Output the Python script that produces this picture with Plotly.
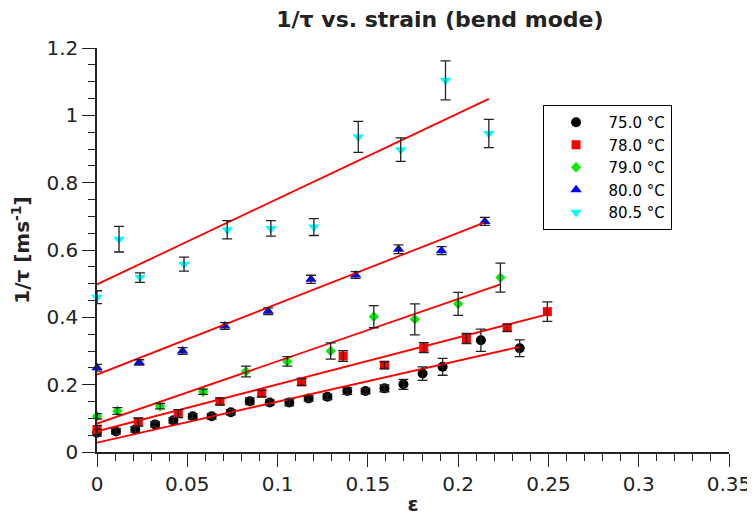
import plotly.graph_objects as go

# ---- data ----
labels = ["75.0 °C", "78.0 °C", "79.0 °C", "80.0 °C", "80.5 °C"]

x_750 = [0.0, 0.0105, 0.0212, 0.0322, 0.0423, 0.053, 0.0635, 0.0741, 0.0846, 0.0957, 0.1065,
         0.1172, 0.1276, 0.1386, 0.1487, 0.1592, 0.1697, 0.1803, 0.1914, 0.2126, 0.2341]
y_750 = [0.057, 0.061, 0.067, 0.082, 0.094, 0.106, 0.106, 0.118, 0.151, 0.147, 0.147,
         0.159, 0.164, 0.181, 0.181, 0.189, 0.201, 0.233, 0.253, 0.332, 0.308]
e_750 = [0.01, 0.008, 0.008, 0.008, 0.008, 0.008, 0.008, 0.008, 0.01, 0.008, 0.01,
         0.008, 0.008, 0.01, 0.008, 0.01, 0.015, 0.02, 0.025, 0.033, 0.025]

x_780 = [0.0, 0.0229, 0.045, 0.0681, 0.0912, 0.1133, 0.1363, 0.1592, 0.181, 0.2046, 0.2272, 0.2494]
y_780 = [0.067, 0.089, 0.114, 0.150, 0.174, 0.208, 0.285, 0.258, 0.310, 0.337, 0.369, 0.417]
e_780 = [0.012, 0.012, 0.012, 0.01, 0.01, 0.01, 0.016, 0.01, 0.015, 0.015, 0.011, 0.029]

x_790 = [0.0, 0.0113, 0.0349, 0.0588, 0.0825, 0.1054, 0.1294, 0.1533, 0.176, 0.2000, 0.2234]
y_790 = [0.106, 0.122, 0.136, 0.179, 0.239, 0.269, 0.300, 0.402, 0.394, 0.440, 0.518]
e_790 = [0.008, 0.01, 0.008, 0.008, 0.016, 0.014, 0.024, 0.033, 0.046, 0.034, 0.043]

x_800 = [0.0, 0.0234, 0.0474, 0.0708, 0.0948, 0.1185, 0.1432, 0.167, 0.1908, 0.2148]
y_800 = [0.250, 0.266, 0.300, 0.374, 0.418, 0.513, 0.526, 0.602, 0.598, 0.685]
e_800 = [0.01, 0.008, 0.01, 0.01, 0.01, 0.012, 0.01, 0.013, 0.012, 0.012]

x_805 = [0.0, 0.0122, 0.0238, 0.0482, 0.0721, 0.0963, 0.1201, 0.1447, 0.1682, 0.193, 0.217]
y_805 = [0.460, 0.632, 0.518, 0.558, 0.660, 0.664, 0.668, 0.936, 0.898, 1.104, 0.946]
e_805 = [0.019, 0.038, 0.014, 0.021, 0.027, 0.023, 0.025, 0.046, 0.035, 0.058, 0.042]

# linear fit lines: start/end x and y
fit_x0 = [0.0, 0.0, 0.0, 0.0, 0.0]
fit_x1 = [0.2341, 0.2494, 0.2234, 0.2148, 0.217]
fit_y0 = [0.028, 0.0616, 0.0845, 0.230, 0.498]
fit_y1 = [0.3125, 0.409, 0.498, 0.682, 1.049]

xs = [x_750, x_780, x_790, x_800, x_805]
ys = [y_750, y_780, y_790, y_800, y_805]
es = [e_750, e_780, e_790, e_800, e_805]

colors = ["#000000", "#ff0000", "#00ee00", "#0000ff", "#00ffff"]
symbols = ["circle", "square", "diamond", "triangle-up", "triangle-down"]
sizes = [10, 9, 8, 10, 10]

fig = go.Figure()

for i in range(5):
    fig.add_trace(go.Scatter(
        x=xs[i], y=ys[i], mode="markers", name=labels[i],
        marker=dict(color=colors[i], symbol=symbols[i], size=sizes[i], line=dict(width=0)),
        cliponaxis=False,
    ))

for i in range(5):
    fig.add_trace(go.Scatter(
        x=[fit_x0[i], fit_x1[i]], y=[fit_y0[i], fit_y1[i]], mode="lines",
        line=dict(color="#ff0000", width=1.8), showlegend=False, hoverinfo="skip",
        cliponaxis=False,
    ))

for i in range(5):
    fig.add_trace(go.Scatter(
        x=xs[i], y=ys[i], mode="markers", showlegend=False, hoverinfo="skip",
        marker=dict(color="rgba(0,0,0,0)", size=1),
        error_y=dict(type="data", array=es[i], visible=True, color="#222222",
                     thickness=1.3, width=5),
        cliponaxis=False,
    ))

axis_font = dict(family="DejaVu Sans", size=20, color="#222222")

fig.update_layout(
    width=755, height=517,
    margin=dict(l=89, r=34, t=40, b=73),
    paper_bgcolor="white", plot_bgcolor="white",
    font=dict(family="DejaVu Sans", color="#222222"),
    title=dict(text="<b>1/τ vs. strain (bend mode)</b>", x=0.572, xanchor="center",
               xref="container", y=0.993, yanchor="top", automargin=False,
               pad=dict(t=0, b=0),
               font=dict(family="DejaVu Sans", size=22, color="#222222")),
    xaxis=dict(
        range=[0, 0.35], dtick=0.05, tick0=0, showgrid=False, zeroline=False,
        showline=True, linecolor="#222222", linewidth=1.5, automargin=False,
        ticks="outside", ticklen=13, tickwidth=1.3, tickcolor="#222222",
        minor=dict(dtick=0.01, ticks="outside", ticklen=7, tickwidth=1.3, tickcolor="#222222"),
        tickfont=axis_font,
        title=dict(text="<b>ε</b>", font=dict(family="DejaVu Sans", size=20, color="#222222"), standoff=2),
    ),
    yaxis=dict(
        range=[0, 1.2], dtick=0.2, tick0=0, showgrid=False, zeroline=False,
        showline=True, linecolor="#222222", linewidth=1.5, automargin=False,
        ticks="outside", ticklen=13, tickwidth=1.3, tickcolor="#222222",
        minor=dict(dtick=0.05, ticks="outside", ticklen=7, tickwidth=1.3, tickcolor="#222222"),
        tickfont=axis_font,
        title=dict(text="<b>1/τ [ms<sup>-1</sup>]</b>", font=dict(family="DejaVu Sans", size=20, color="#222222"), standoff=13),
    ),
    legend=dict(
        x=0.705, y=0.859, xanchor="left", yanchor="top",
        bordercolor="#000000", borderwidth=1, bgcolor="white",
        font=dict(family="DejaVu Sans", size=15, color="#000000"),
        itemwidth=55,
    ),
    showlegend=True,
)

fig.write_html("out.html")
